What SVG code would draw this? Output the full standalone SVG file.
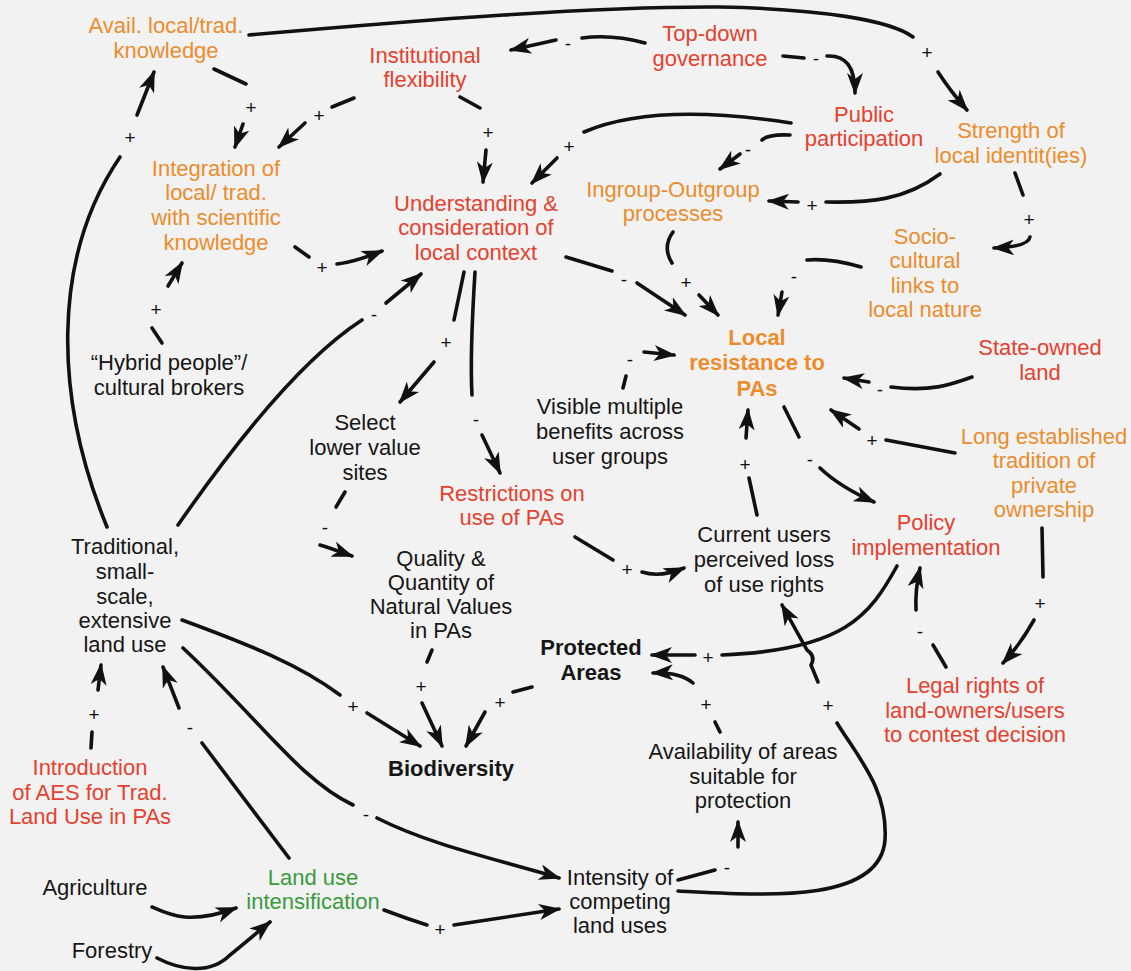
<svg xmlns="http://www.w3.org/2000/svg" width="1131" height="971" viewBox="0 0 1131 971">
<defs>
<marker id="ah" viewBox="0 0 22 16" refX="20" refY="8" markerWidth="22" markerHeight="16" markerUnits="userSpaceOnUse" orient="auto">
<path d="M0,0 L22,8 L0,16 L6,8 Z" fill="#111"/>
</marker>
<style>
.n{font-family:"Liberation Sans",Arial,sans-serif;font-size:22px;text-anchor:middle}
.b{font-weight:bold}
.or{fill:#ec8c2c}
.rd{fill:#e5412f}
.gr{fill:#3b9a3e}
.bk{fill:#161616}
.c path{fill:none;stroke:#111;stroke-width:3.6;stroke-linecap:round}
.c path.a{marker-end:url(#ah)}
.s{font-family:"Liberation Sans",Arial,sans-serif;font-size:19px;text-anchor:middle;fill:#111}
</style>
</defs>
<rect width="1131" height="971" fill="#f2f2f2"/>

<g id="connectors" class="c">
<g id="e-avail-strength"><path d="M249,35 C420,20 600,6 720,7 C820,9 890,20 913,37"/><text class="s" x="927" y="59">+</text><path class="a" d="M938,72 Q951,92 967,110"/></g>
<g id="e-top-inst"><path d="M645,43 Q612,34 582,38"/><text class="s" x="568" y="50">-</text><path class="a" d="M556,40 L511,50"/></g>
<g id="e-top-public"><path d="M783,56 L804,58"/><text class="s" x="816" y="65">-</text><path class="a" d="M827,56 C846,55 855,67 855,93"/></g>
<g id="e-inst-integ"><path d="M354,98 L332,107"/><text class="s" x="319" y="122">+</text><path class="a" d="M305,123 L279,147"/></g>
<g id="e-avail-integ"><path d="M214,69 L246,84"/><text class="s" x="251" y="114">+</text><path class="a" d="M243,124 L235,147"/></g>
<g id="e-inst-under"><path d="M460,97 L480,108"/><text class="s" x="488" y="139">+</text><path class="a" d="M486,150 L483,182"/></g>
<g id="e-public-under"><path d="M791,123 C720,112 640,108 584,132"/><text class="s" x="569" y="153">+</text><path class="a" d="M557,158 L532,183"/></g>
<g id="e-public-ingroup"><path d="M790,135 Q768,134 762,140"/><text class="s" x="748" y="156">-</text><path class="a" d="M740,154 L720,169"/></g>
<g id="e-strength-ingroup"><path d="M940,174 C905,200 870,203 826,202"/><text class="s" x="812" y="212">+</text><path class="a" d="M798,202 L769,201"/></g>
<g id="e-strength-socio"><path d="M1015,173 L1023,195"/><text class="s" x="1029" y="226">+</text><path class="a" d="M1030,237 Q1028,247 994,248"/></g>
<g id="e-ingroup-local"><path d="M673,232 Q662,247 672,263"/><text class="s" x="686" y="289">+</text><path class="a" d="M699,295 L718,315"/></g>
<g id="e-socio-local"><path d="M861,267 Q830,258 807,260"/><text class="s" x="794" y="283">-</text><path class="a" d="M782,292 L778,315"/></g>
<g id="e-under-local"><path d="M566,257 L612,271"/><text class="s" x="624" y="286">-</text><path class="a" d="M637,283 L685,315"/></g>
<g id="e-integ-under"><path d="M295,247 L309,257"/><text class="s" x="322" y="274">+</text><path class="a" d="M337,264 Q355,262 382,251"/></g>
<g id="e-hybrid-integ"><path d="M162,343 L152,328"/><text class="s" x="156" y="316">+</text><path class="a" d="M168,286 L182,263"/></g>
<g id="e-trad-avail"><path d="M107,527 C55,400 50,260 120,157"/><text class="s" x="130" y="144">+</text><path class="a" d="M137,115 L154,72"/></g>
<g id="e-trad-under"><path d="M178,525 C230,450 300,360 362,320"/><text class="s" x="374" y="321">-</text><path class="a" d="M386,303 L421,274"/></g>
<g id="e-under-select"><path d="M464,272 L454,320"/><text class="s" x="446" y="349">+</text><path class="a" d="M434,362 L400,402"/></g>
<g id="e-under-restr"><path d="M475,272 C472,320 470,360 472,395"/><text class="s" x="476" y="426">-</text><path class="a" d="M482,435 L500,473"/></g>
<g id="e-select-quality"><path d="M345,492 L336,507"/><text class="s" x="325" y="534">-</text><path class="a" d="M320,545 Q330,548 352,556"/></g>
<g id="e-visible-local"><path d="M623,388 L626,376"/><text class="s" x="630" y="366">-</text><path class="a" d="M644,352 L674,355"/></g>
<g id="e-local-policy"><path d="M784,407 L799,437"/><text class="s" x="810" y="466">-</text><path class="a" d="M820,468 Q840,487 874,502"/></g>
<g id="e-state-local"><path d="M972,377 C950,385 930,392 891,387"/><text class="s" x="880" y="396">-</text><path class="a" d="M869,382 L844,378"/></g>
<g id="e-long-local"><path d="M955,453 L886,440"/><text class="s" x="872" y="447">+</text><path class="a" d="M859,429 L831,410"/></g>
<g id="e-current-local"><path d="M757,515 L749,478"/><text class="s" x="745" y="471">+</text><path class="a" d="M746,438 L748,410"/></g>
<g id="e-restr-current"><path d="M575,537 L613,560"/><text class="s" x="627" y="576">+</text><path class="a" d="M642,572 Q660,578 684,568"/></g>
<g id="e-policy-pa"><path d="M897,566 C870,615 845,650 722,655"/><text class="s" x="708" y="664">+</text><path class="a" d="M695,655 L652,655"/></g>
<g id="e-legal-policy"><path d="M946,667 L933,645"/><text class="s" x="920" y="638">-</text><path class="a" d="M916,610 Q915,590 920,568"/></g>
<g id="e-long-legal"><path d="M1042,528 L1043,577"/><text class="s" x="1040" y="610">+</text><path class="a" d="M1034,620 Q1020,645 1003,663"/></g>
<g id="e-intens-current"><path d="M678,891 C760,895 880,905 885,840 C888,790 860,760 837,723"/><text class="s" x="828" y="712">+</text><path class="a" d="M818,682 L811,665 Q816,656 807,650 L782,605"/></g>
<g id="e-intens-avail"><path d="M678,880 L715,870"/><text class="s" x="727" y="874">-</text><path class="a" d="M738,847 L738,822"/></g>
<g id="e-avail-pa"><path d="M720,732 L715,722"/><text class="s" x="706" y="711">+</text><path class="a" d="M693,683 Q680,672 653,673"/></g>
<g id="e-pa-bio"><path d="M532,687 L513,692"/><text class="s" x="500" y="709">+</text><path class="a" d="M485,712 L466,746"/></g>
<g id="e-quality-bio"><path d="M432,650 L427,662"/><text class="s" x="421" y="693">+</text><path class="a" d="M422,703 L442,746"/></g>
<g id="e-trad-bio"><path d="M182,620 C250,645 300,665 340,695"/><text class="s" x="353" y="713">+</text><path class="a" d="M367,713 L420,746"/></g>
<g id="e-trad-intens"><path d="M183,648 C260,720 300,780 353,805"/><text class="s" x="366" y="821">-</text><path class="a" d="M377,818 C430,845 500,860 559,878"/></g>
<g id="e-luint-trad"><path d="M289,858 C260,820 230,780 202,743"/><text class="s" x="190" y="734">-</text><path class="a" d="M179,708 L163,667"/></g>
<g id="e-intro-trad"><path d="M91,748 L92,732"/><text class="s" x="94" y="721">+</text><path class="a" d="M98,690 L101,665"/></g>
<g id="e-agri-luint"><path class="a" d="M152,907 C170,915 190,925 236,908"/></g>
<g id="e-forest-luint"><path class="a" d="M157,958 C180,970 210,975 230,955 L270,922"/></g>
<g id="e-luint-intens"><path d="M384,910 Q405,918 427,925"/><text class="s" x="440" y="936">+</text><path class="a" d="M454,925 L559,909"/></g>
</g>

<g id="n-avail" class="n or"><text x="166" y="33">Avail. local/trad.</text><text x="166" y="58">knowledge</text></g>
<g id="n-inst" class="n rd"><text x="425" y="63">Institutional</text><text x="425" y="87">flexibility</text></g>
<g id="n-topdown" class="n rd"><text x="710" y="41">Top-down</text><text x="710" y="66">governance</text></g>
<g id="n-public" class="n rd"><text x="864" y="122">Public</text><text x="864" y="146">participation</text></g>
<g id="n-strength" class="n or"><text x="1011" y="138">Strength of</text><text x="1011" y="163">local identit(ies)</text></g>
<g id="n-ingroup" class="n or"><text x="673" y="197">Ingroup-Outgroup</text><text x="673" y="221">processes</text></g>
<g id="n-socio" class="n or"><text x="925" y="244">Socio-</text><text x="925" y="268">cultural</text><text x="925" y="293">links to</text><text x="925" y="317">local nature</text></g>
<g id="n-under" class="n rd"><text x="476" y="211">Understanding &amp;</text><text x="476" y="235">consideration of</text><text x="476" y="260">local context</text></g>
<g id="n-integ" class="n or"><text x="216" y="176">Integration of</text><text x="216" y="200">local/ trad.</text><text x="216" y="225">with scientific</text><text x="216" y="250">knowledge</text></g>
<g id="n-hybrid" class="n bk"><text x="169" y="370">“Hybrid people”/</text><text x="169" y="395">cultural brokers</text></g>
<g id="n-trad" class="n bk"><text x="125" y="554">Traditional,</text><text x="125" y="579">small-</text><text x="125" y="604">scale,</text><text x="125" y="628">extensive</text><text x="125" y="652">land use</text></g>
<g id="n-select" class="n bk"><text x="365" y="430">Select</text><text x="365" y="455">lower value</text><text x="365" y="480">sites</text></g>
<g id="n-quality" class="n bk"><text x="441" y="566">Quality &amp;</text><text x="441" y="590">Quantity of</text><text x="441" y="614">Natural Values</text><text x="441" y="638">in PAs</text></g>
<g id="n-restr" class="n rd"><text x="512" y="501">Restrictions on</text><text x="512" y="525">use of PAs</text></g>
<g id="n-visible" class="n bk"><text x="610" y="414">Visible multiple</text><text x="610" y="439">benefits across</text><text x="610" y="464">user groups</text></g>
<g id="n-local" class="n b or"><text x="757" y="345">Local</text><text x="757" y="370">resistance to</text><text x="757" y="396">PAs</text></g>
<g id="n-state" class="n rd"><text x="1040" y="355">State-owned</text><text x="1040" y="380">land</text></g>
<g id="n-long" class="n or"><text x="1044" y="444">Long established</text><text x="1044" y="468">tradition of</text><text x="1044" y="493">private</text><text x="1044" y="517">ownership</text></g>
<g id="n-current" class="n bk"><text x="764" y="542">Current users</text><text x="764" y="567">perceived loss</text><text x="764" y="592">of use rights</text></g>
<g id="n-policy" class="n rd"><text x="926" y="530">Policy</text><text x="926" y="555">implementation</text></g>
<g id="n-pa" class="n b bk"><text x="591" y="655">Protected</text><text x="591" y="680">Areas</text></g>
<g id="n-bio" class="n b bk"><text x="451" y="776">Biodiversity</text></g>
<g id="n-availab" class="n bk"><text x="743" y="759">Availability of areas</text><text x="743" y="784">suitable for</text><text x="743" y="808">protection</text></g>
<g id="n-legal" class="n rd"><text x="975" y="693">Legal rights of</text><text x="975" y="718">land-owners/users</text><text x="975" y="742">to contest decision</text></g>
<g id="n-intro" class="n rd"><text x="90" y="775">Introduction</text><text x="90" y="800">of AES for Trad.</text><text x="90" y="824">Land Use in PAs</text></g>
<g id="n-agri" class="n bk"><text x="95" y="895">Agriculture</text></g>
<g id="n-forest" class="n bk"><text x="112" y="958">Forestry</text></g>
<g id="n-luint" class="n gr"><text x="313" y="885">Land use</text><text x="313" y="909">intensification</text></g>
<g id="n-intens" class="n bk"><text x="620" y="885">Intensity of</text><text x="620" y="909">competing</text><text x="620" y="933">land uses</text></g>
</svg>
